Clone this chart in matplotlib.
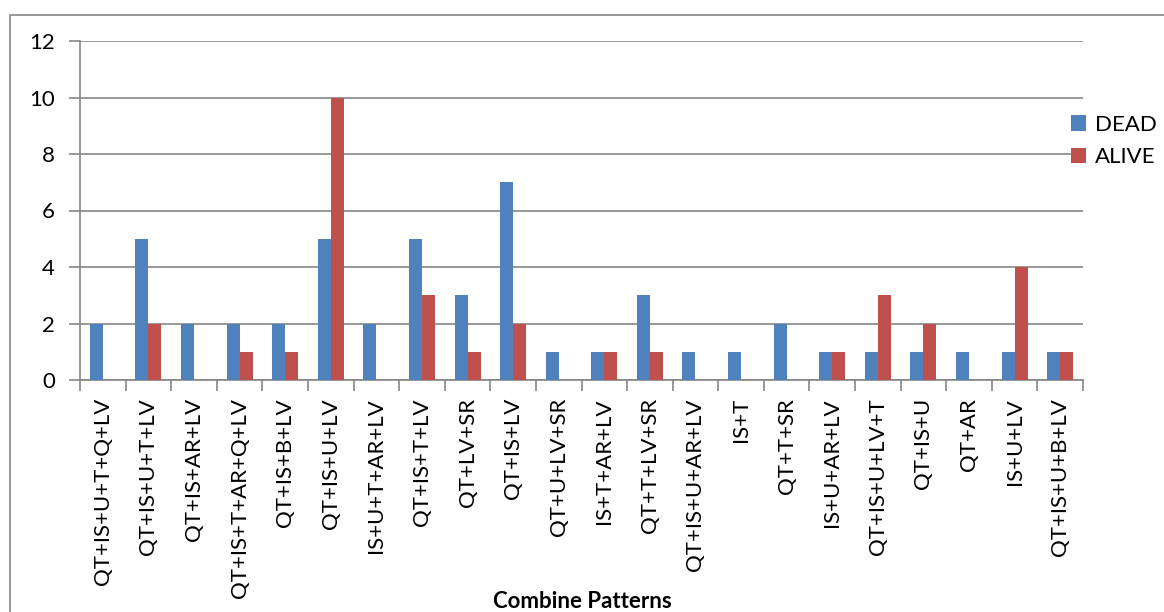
import matplotlib
matplotlib.use("Agg")
import matplotlib.pyplot as plt
import numpy as np
from matplotlib.patches import Rectangle

# Daten
patterns = ["QT+IS+U+T+Q+LV", "QT+IS+U+T+LV", "QT+IS+AR+LV", "QT+IS+T+AR+Q+LV",
            "QT+IS+B+LV", "QT+IS+U+LV", "IS+U+T+AR+LV", "QT+IS+T+LV", "QT+LV+SR",
            "QT+IS+LV", "QT+U+LV+SR", "IS+T+AR+LV", "QT+T+LV+SR", "QT+IS+U+AR+LV",
            "IS+T", "QT+T+SR", "IS+U+AR+LV", "QT+IS+U+LV+T", "QT+IS+U", "QT+AR",
            "IS+U+LV", "QT+IS+U+B+LV"]
dead = [2, 5, 2, 2, 2, 5, 2, 5, 3, 7, 1, 1, 3, 1, 1, 2, 1, 1, 1, 1, 1, 1]
alive = [0, 2, 0, 1, 1, 10, 0, 3, 1, 2, 0, 1, 1, 0, 0, 0, 1, 3, 2, 0, 4, 1]

plt.rcParams['font.family'] = ['Lato', 'DejaVu Sans']
fs = 16

W, H = 1164, 612
fig = plt.figure(figsize=(W/100, H/100), dpi=100)
ax = fig.add_axes([80/W, 1-380/H, (1083-80)/W, (380-41)/H])

# aeusserer Rahmen
fig.patches.append(Rectangle((10/W, -0.1), 1.2, 1-15/H+0.1, transform=fig.transFigure,
                             fill=False, edgecolor='#868686', linewidth=1.2))

x = np.arange(len(patterns))
bw = 0.285
ax.bar(x - bw/2, dead, bw, color='#4F81BD', label='DEAD', zorder=3)
ax.bar(x + bw/2, alive, bw, color='#C0504D', label='ALIVE', zorder=3)

ax.set_xlim(-0.5, len(patterns) - 0.5)
ax.set_ylim(0, 12)
ax.set_yticks(range(0, 13, 2))
ax.yaxis.grid(True, color='#868686', linewidth=1.2)
ax.set_axisbelow(True)
for s in ['top', 'right']:
    ax.spines[s].set_visible(False)
ax.spines['left'].set_color('#868686')
ax.spines['bottom'].set_color('#868686')
ax.spines['left'].set_linewidth(1.2)
ax.spines['bottom'].set_linewidth(1.2)

ax.set_xticks(x)
ax.set_xticklabels(patterns, rotation=90, fontsize=fs)
ax.tick_params(axis='x', length=0, pad=13)
ax.set_xticks(np.arange(-0.5, len(patterns)), minor=True)
ax.tick_params(axis='x', which='minor', length=8, color='#868686', width=1.2)
ax.tick_params(axis='y', length=8, color='#868686', width=1.2, labelsize=fs, pad=10)

ax.set_xlabel('Combine Patterns', fontsize=fs, fontweight='bold', va='center')
ax.xaxis.set_label_coords(502/(1083-80), -(601-380)/(380-41))

ax.legend(loc='upper left', bbox_to_anchor=(1062/W, 1-106/H), bbox_transform=fig.transFigure,
          frameon=False, fontsize=fs, handlelength=0.7, handleheight=0.7,
          handletextpad=0.4, labelspacing=0.55, borderaxespad=0)

fig.savefig('out.png', dpi=100)
